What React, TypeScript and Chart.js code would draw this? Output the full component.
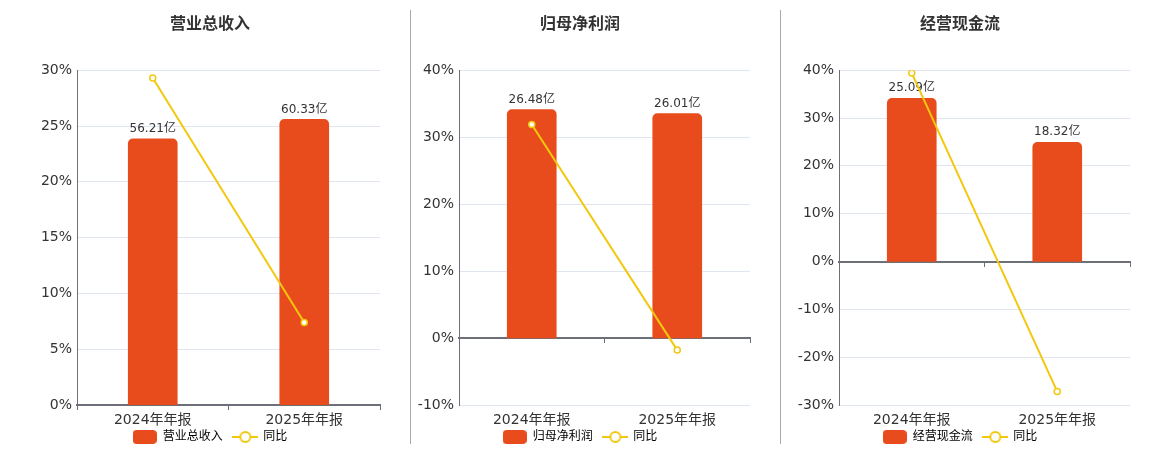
import { useEffect, useRef } from 'react';
import { Chart, registerables } from 'chart.js';

Chart.register(...registerables);

const periods = ['2024年年报', '2025年年报'];

const revenueValues = [56.21, 60.33];
const revenueYoy = [29.3, 7.4];
const revenueTicks = [0, 30, 5];

const profitValues = [26.48, 26.01];
const profitYoy = [31.9, -1.8];
const profitTicks = [-10, 40, 10];

const cashValues = [25.09, 18.32];
const cashYoy = [39.4, -27.2];
const cashTicks = [-30, 40, 10];

const FONT = '"DejaVu Sans", "Noto Sans CJK SC", sans-serif';
const BAR_COLOR = '#e84c1d';
const LINE_COLOR = '#f2c80f';
const AXIS_COLOR = '#6e7079';
const GRID_COLOR = '#e0e6f1';

function barIcon() {
  const c = document.createElement('canvas');
  c.width = 24;
  c.height = 14;
  const ctx = c.getContext('2d')!;
  ctx.fillStyle = BAR_COLOR;
  ctx.beginPath();
  ctx.roundRect(0, 0, 24, 14, 4);
  ctx.fill();
  return c;
}

function lineIcon() {
  const c = document.createElement('canvas');
  c.width = 26;
  c.height = 14;
  const ctx = c.getContext('2d')!;
  ctx.strokeStyle = LINE_COLOR;
  ctx.lineWidth = 2;
  ctx.beginPath();
  ctx.moveTo(0, 7);
  ctx.lineTo(26, 7);
  ctx.stroke();
  ctx.fillStyle = '#fff';
  ctx.beginPath();
  ctx.arc(13, 7, 5, 0, Math.PI * 2);
  ctx.fill();
  ctx.stroke();
  return c;
}

// value labels above the bars, drawn before the yoy line
const barLabels = {
  id: 'barLabels',
  afterDatasetDraw(chart: any, args: any) {
    if (args.index !== 0) return;
    const { ctx } = chart;
    const values = chart.data.datasets[0].data as number[];
    ctx.save();
    ctx.font = `12px ${FONT}`;
    ctx.fillStyle = '#333';
    ctx.textAlign = 'center';
    ctx.textBaseline = 'bottom';
    args.meta.data.forEach((bar: any, i: number) => {
      ctx.fillText(`${values[i].toFixed(2)}亿`, bar.x, bar.y - 4);
    });
    ctx.restore();
  },
};

type PanelProps = {
  title: string;
  name: string;
  values: number[];
  yoy: number[];
  ticks: number[];
  axisWidth: number;
  left: number;
};

function Panel({ title, name, values, yoy, ticks, axisWidth, left }: PanelProps) {
  const canvasRef = useRef<HTMLCanvasElement | null>(null);

  useEffect(() => {
    const canvas = canvasRef.current;
    if (!canvas) return undefined;

    const [yMin, yMax, step] = ticks;
    // bars sit on their own hidden axis, zero aligned with the percent axis
    const barMax = Math.max(...values) / 0.853;
    const barMin = (barMax * yMin) / yMax;
    const icons = [barIcon(), lineIcon()];
    // legend padding is kept small so it fits under the axis labels;
    // the trailing spaces restore the gap between the two items
    const legendTexts = [`${name}  `, '同比'];

    const chart = new Chart(canvas, {
      type: 'bar',
      data: {
        labels: periods,
        datasets: [
          {
            type: 'bar',
            label: name,
            data: values,
            yAxisID: 'y1',
            backgroundColor: BAR_COLOR,
            barThickness: 49,
            borderRadius: 5,
            order: 1,
          },
          {
            type: 'line',
            label: '同比',
            data: yoy,
            yAxisID: 'y',
            borderColor: LINE_COLOR,
            borderWidth: 2,
            pointRadius: 3,
            pointBackgroundColor: '#fff',
            pointBorderColor: LINE_COLOR,
            pointBorderWidth: 1.5,
            order: 0,
          } as any,
        ],
      },
      options: {
        animation: false,
        responsive: false,
        layout: { autoPadding: false, padding: { right: 2 } },
        plugins: {
          tooltip: { enabled: false },
          title: {
            display: true,
            text: title,
            color: '#333',
            font: { family: FONT, size: 16, weight: 'bold' },
            padding: { top: 15, bottom: 36 },
          },
          legend: {
            position: 'bottom',
            onClick: () => {},
            labels: {
              usePointStyle: true,
              pointStyleWidth: 24,
              padding: 3,
              color: '#464646',
              font: { family: FONT, size: 12 },
              generateLabels: () =>
                legendTexts.map((text, i) => ({
                  text,
                  pointStyle: icons[i],
                  datasetIndex: i,
                  hidden: false,
                  lineWidth: 0,
                  fillStyle: 'transparent',
                  strokeStyle: 'transparent',
                })) as any,
            },
          },
        },
        scales: {
          x: {
            grid: { display: false, drawTicks: false },
            border: { display: false },
            ticks: {
              color: '#333',
              padding: 8,
              font: { family: FONT, size: 14, lineHeight: 1.1 },
            },
            afterFit: (scale: any) => {
              scale.height = 23;
            },
          },
          x2: {
            type: 'category',
            position: { y: 0 },
            offset: true,
            grid: {
              display: true,
              offset: true,
              drawOnChartArea: false,
              drawTicks: true,
              tickLength: 4,
              color: AXIS_COLOR,
            },
            border: { display: true, color: AXIS_COLOR, width: 2 },
            ticks: { display: false },
          },
          y: {
            min: yMin,
            max: yMax,
            grid: { color: GRID_COLOR, drawTicks: false },
            border: { display: true, color: AXIS_COLOR },
            ticks: {
              stepSize: step,
              padding: 5,
              color: '#333',
              font: { family: FONT, size: 14 },
              callback: (v: any) => `${v}%`,
            },
            afterFit: (scale: any) => {
              scale.width = axisWidth;
            },
          },
          y1: {
            display: false,
            min: barMin,
            max: barMax,
          },
        },
      } as any,
      plugins: [barLabels],
    });

    return () => {
      chart.destroy();
    };
  }, [title, name, values, yoy, ticks, axisWidth]);

  return (
    <canvas
      ref={canvasRef}
      width={342}
      height={453}
      style={{ position: 'absolute', left, top: 0, width: 342, height: 453 }}
    />
  );
}

const separator = (left: number) => (
  <div
    style={{ position: 'absolute', left, top: 10, width: 1, height: 434, background: '#aaa' }}
  />
);

export default function App() {
  return (
    <div
      style={{
        position: 'absolute',
        left: 0,
        top: 0,
        width: 1160,
        height: 450,
        overflow: 'hidden',
        background: '#fff',
      }}
    >
      {separator(410)}
      {separator(780)}
      <Panel title="营业总收入" name="营业总收入" values={revenueValues} yoy={revenueYoy} ticks={revenueTicks} axisWidth={37} left={40} />
      <Panel title="归母净利润" name="归母净利润" values={profitValues} yoy={profitYoy} ticks={profitTicks} axisWidth={49} left={410} />
      <Panel title="经营现金流" name="经营现金流" values={cashValues} yoy={cashYoy} ticks={cashTicks} axisWidth={49} left={790} />
    </div>
  );
}
